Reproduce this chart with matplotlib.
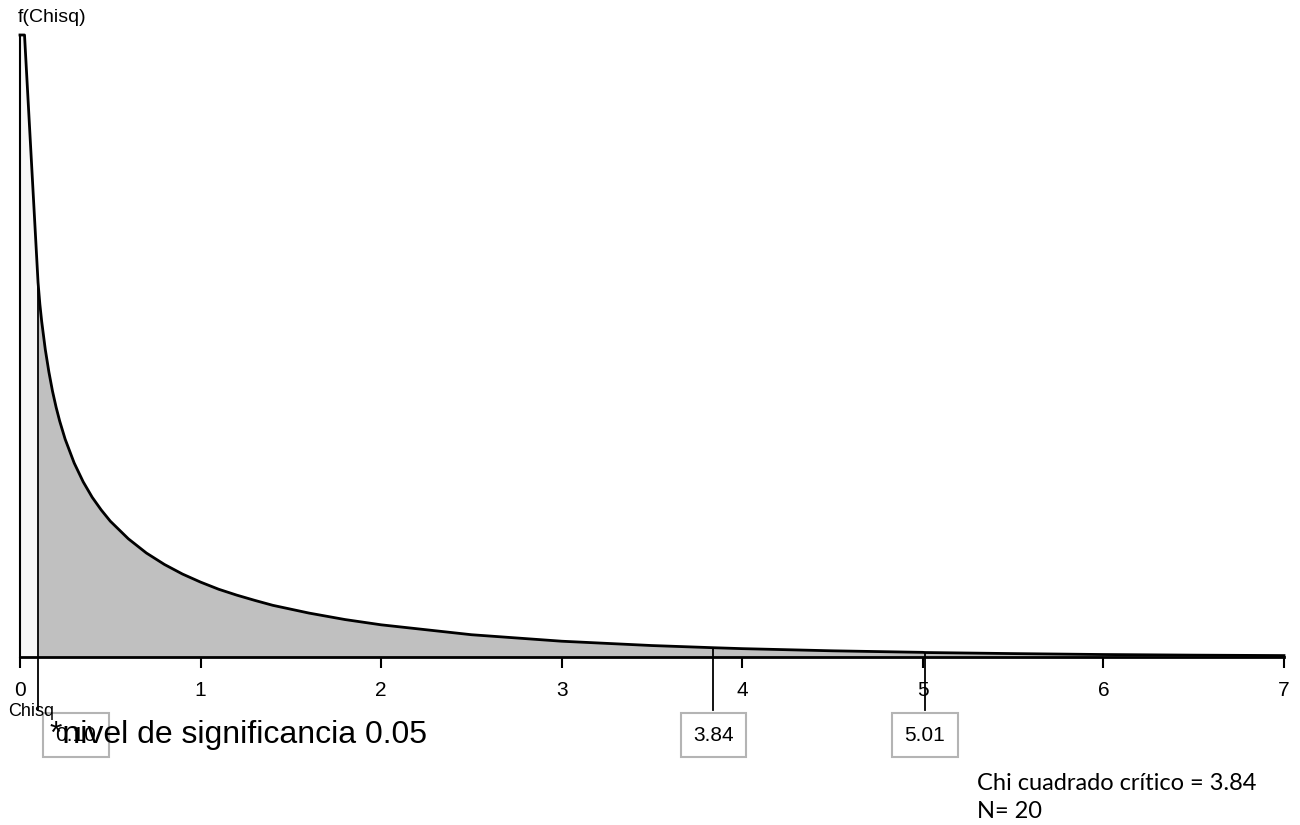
import matplotlib
matplotlib.use("Agg")
import matplotlib.pyplot as plt
import numpy as np

# density of chi-square (top clipped at ~2.01)
chisq_x = [0.0, 0.025, 0.10, 0.11, 0.12, 0.14,
           0.16, 0.18, 0.20, 0.22, 0.25, 0.30, 0.35, 0.40, 0.45, 0.50, 0.60, 0.70,
           0.80, 0.90, 1.00, 1.10, 1.20, 1.30, 1.40, 1.60, 1.80, 2.00, 2.50, 3.00,
           3.50, 3.84, 4.00, 4.50, 5.00, 5.01, 5.50, 6.00, 6.50, 7.00]
density = [2.01, 2.01, 1.21, 1.14, 1.085, 0.994,
           0.921, 0.859, 0.807, 0.762, 0.704, 0.627, 0.566, 0.516, 0.475, 0.439, 0.382, 0.336,
           0.299, 0.268, 0.242, 0.219, 0.200, 0.183, 0.167, 0.142, 0.121, 0.104, 0.072, 0.051,
           0.037, 0.030, 0.027, 0.020, 0.015, 0.0145, 0.011, 0.008, 0.006, 0.0046]

x_ticks = [0, 1, 2, 3, 4, 5, 6, 7]
crit_values = [0.10, 3.84, 5.01]
crit_labels = ["0.10", "3.84", "5.01"]
crit_label_x = [0.31, 3.84, 5.01]
y_top = 2.01

narrow = ["Liberation Sans Narrow", "Liberation Sans", "DejaVu Sans"]
arial = ["Liberation Sans", "DejaVu Sans"]
calibri = ["Lato", "DejaVu Sans"]

x = np.array(chisq_x)
y = np.array(density)

fig = plt.figure(figsize=(13, 8.25), dpi=100)
ax = fig.add_axes([20 / 1300, 1 - 657 / 825, 1264 / 1300, 622 / 825])

left = x <= 0.10
right = x >= 0.10
ax.fill_between(x[left], 0, y[left], color="#f7f7f7", linewidth=0)
ax.fill_between(x[right], 0, y[right], color="#c0c0c0", linewidth=0)
ax.plot(x, y, color="black", linewidth=2, clip_on=False)
ax.plot([0, 0], [0, y_top], color="black", linewidth=1.5, clip_on=False)

ax.set_xlim(0, 7)
ax.set_ylim(0, y_top)

for sp in ["top", "right", "left"]:
    ax.spines[sp].set_visible(False)
ax.spines["bottom"].set_linewidth(2)
ax.set_yticks([])
ax.set_xticks(x_ticks)
ax.tick_params(axis="x", direction="out", length=8, width=1.5, pad=9, labelsize=15)
for lab in ax.get_xticklabels():
    lab.set_family(narrow)

# critical value lines and boxed labels
trans = ax.get_xaxis_transform()
for cv, lab, lx in zip(crit_values, crit_labels, crit_label_x):
    fy = np.interp(cv, x, y) / y_top
    ax.plot([cv, cv], [fy, -0.086], color="black", linewidth=1.3,
            transform=trans, clip_on=False)
    ax.text(lx, -0.126, lab, transform=trans, ha="center", va="center",
            fontsize=15, family=narrow,
            bbox=dict(boxstyle="square,pad=0.6", facecolor="white",
                      edgecolor="#b4b4b4", linewidth=1.5))

fig.text(18 / 1300, 1 - 18 / 825, "f(Chisq)", fontsize=14, family=narrow,
         ha="left", va="center")
fig.text(8 / 1300, 1 - 712 / 825, "Chisq", fontsize=13, family=narrow,
         ha="left", va="center")
fig.text(50 / 1300, 1 - 735 / 825, "*nivel de significancia 0.05", fontsize=23,
         family=arial, ha="left", va="center")
fig.text(977 / 1300, 1 - 783 / 825, "Chi cuadrado crítico = 3.84", fontsize=17,
         family=calibri, ha="left", va="center")
fig.text(977 / 1300, 1 - 812 / 825, "N= 20", fontsize=17,
         family=calibri, ha="left", va="center")

fig.savefig("out.png", dpi=100)
